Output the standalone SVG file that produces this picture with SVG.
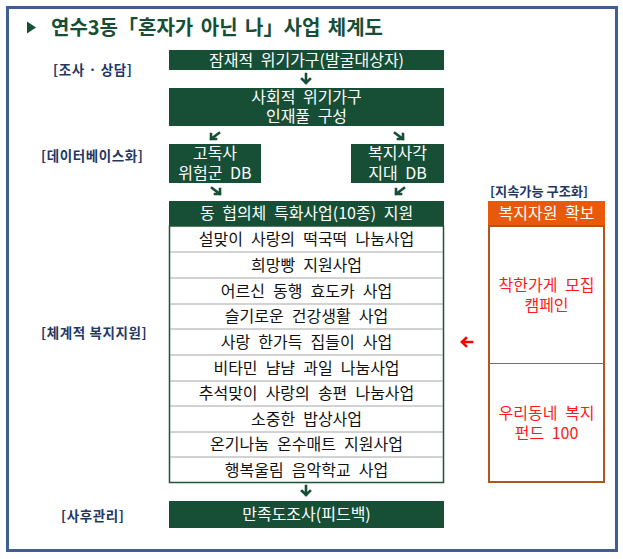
<svg xmlns="http://www.w3.org/2000/svg" width="623" height="559" viewBox="0 0 623 559">
<defs>
<style>
.k{font-family:"Noto Sans CJK KR","Liberation Sans",sans-serif}
.gb{fill:#174f36}
.wt{fill:#ffffff;font-size:16px;text-anchor:middle;word-spacing:4px}
.lt{fill:#111111;font-size:16px;text-anchor:middle;word-spacing:4.5px}
.lab{fill:#1f3864;font-size:13.5px;font-weight:bold;letter-spacing:0.6px}
.rt{fill:#ff1a1a;font-size:16px;text-anchor:middle;word-spacing:4px}
.ar{fill:none;stroke:#174f36;stroke-width:2.6;stroke-linecap:square}
.row{stroke:#a6a6a6;stroke-width:1}
</style>
</defs>
<rect x="7.5" y="7.5" width="609" height="543" fill="#ffffff" stroke="#3f5f93" stroke-width="3"/>
<g id="title">
<path d="M27 21.5 L36 27.5 L27 33.5 Z" fill="#174f36"/>
<text class="k" x="51" y="35" font-size="20" font-weight="bold" fill="#174f36" word-spacing="3">연수3동「혼자가 아닌 나」사업 체계도</text>
</g>
<g id="labels">
<text class="k lab" x="53" y="75">[조사 · 상담]</text>
<text class="k lab" x="41" y="161">[데이터베이스화]</text>
<text class="k lab" x="41" y="338">[체계적 복지지원]</text>
<text class="k lab" x="61" y="521">[사후관리]</text>
<text class="k" x="490" y="196" font-size="13" font-weight="bold" fill="#1f3864" textLength="98" lengthAdjust="spacingAndGlyphs">[지속가능 구조화]</text>
</g>
<g id="n1">
<rect class="gb" x="169" y="50" width="275" height="20"/>
<text class="k wt" x="306.5" y="66">잠재적 위기가구(발굴대상자)</text>
</g>
<g id="n2">
<rect class="gb" x="169" y="88" width="275" height="38"/>
<text class="k wt" x="306.5" y="103">사회적 위기가구</text>
<text class="k wt" x="306.5" y="122">인재풀 구성</text>
</g>
<g id="n3">
<rect class="gb" x="169" y="144" width="92" height="39"/>
<text class="k wt" x="215" y="159">고독사</text>
<text class="k wt" x="215" y="179">위험군 DB</text>
</g>
<g id="n4">
<rect class="gb" x="351" y="144" width="93" height="39"/>
<text class="k wt" x="397.5" y="159">복지사각</text>
<text class="k wt" x="397.5" y="179">지대 DB</text>
</g>
<g id="n5">
<rect class="gb" x="169" y="201" width="275" height="25"/>
<text class="k wt" x="306.5" y="219">동 협의체 특화사업(10종) 지원</text>
<rect x="169.5" y="226" width="274" height="256.5" fill="#ffffff" stroke="#1f5236" stroke-width="1.5"/>
<line class="row" x1="170" y1="252" x2="443" y2="252"/>
<line class="row" x1="170" y1="278" x2="443" y2="278" stroke-width="2"/>
<line class="row" x1="170" y1="304" x2="443" y2="304"/>
<line class="row" x1="170" y1="329" x2="443" y2="329"/>
<line class="row" x1="170" y1="355" x2="443" y2="355"/>
<line class="row" x1="170" y1="381" x2="443" y2="381"/>
<line class="row" x1="170" y1="406" x2="443" y2="406"/>
<line class="row" x1="170" y1="432" x2="443" y2="432"/>
<line class="row" x1="170" y1="457" x2="443" y2="457"/>
<text class="k lt" x="306.5" y="245">설맞이 사랑의 떡국떡 나눔사업</text>
<text class="k lt" x="306.5" y="271">희망빵 지원사업</text>
<text class="k lt" x="306.5" y="297">어르신 동행 효도카 사업</text>
<text class="k lt" x="306.5" y="322">슬기로운 건강생활 사업</text>
<text class="k lt" x="306.5" y="348">사랑 한가득 집들이 사업</text>
<text class="k lt" x="306.5" y="374">비타민 냠냠 과일 나눔사업</text>
<text class="k lt" x="306.5" y="399">추석맞이 사랑의 송편 나눔사업</text>
<text class="k lt" x="306.5" y="425">소중한 밥상사업</text>
<text class="k lt" x="306.5" y="450">온기나눔 온수매트 지원사업</text>
<text class="k lt" x="306.5" y="476">행복울림 음악학교 사업</text>
</g>
<g id="n6">
<rect class="gb" x="169" y="501" width="275" height="27"/>
<text class="k wt" x="306.5" y="520">만족도조사(피드백)</text>
</g>
<g id="n7">
<rect x="488" y="201" width="117" height="25" fill="#e8590c"/>
<text class="k wt" x="546.5" y="219">복지자원 확보</text>
<rect x="489" y="226" width="115" height="256" fill="#ffffff" stroke="#b4531a" stroke-width="2"/>
<line x1="489" y1="363.5" x2="604" y2="363.5" stroke="#707070" stroke-width="1"/>
<text class="k rt" x="546.5" y="291">착한가게 모집</text>
<text class="k rt" x="546.5" y="311">캠페인</text>
<text class="k rt" x="546.5" y="419">우리동네 복지</text>
<text class="k rt" x="546.5" y="439">펀드 100</text>
</g>
<g id="connectors">
<path class="ar" d="M306 74 V83 M302 79 L306 83 L310 79"/>
<path class="ar" d="M219 133 L211 139 M211 134 V139 H216"/>
<path class="ar" d="M395 133 L403 139 M403 134 V139 H398"/>
<path class="ar" d="M212 188 L220 194 M220 189 V194 H215"/>
<path class="ar" d="M404 188 L396 194 M396 189 V194 H401"/>
<path class="ar" d="M306 486 V495 M302 491 L306 495 L310 491"/>
<path d="M472 342 H462 M466 338 L462 342 L466 346" fill="none" stroke="#ff0000" stroke-width="2.6" stroke-linecap="square"/>
</g>
</svg>
